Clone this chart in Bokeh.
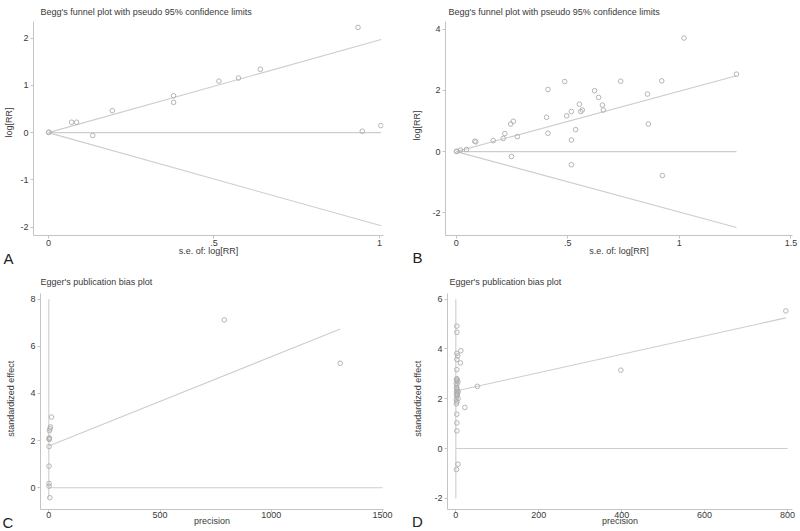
import math
from bokeh.plotting import figure
from bokeh.layouts import column, row
from bokeh.models import FixedTicker, Label, Range1d
from bokeh.embed import file_html
from bokeh.resources import INLINE

# ---------------- data ----------------
# Panel A: Begg's funnel plot
a_se = [0.0008, 0.0013, 0.070, 0.085, 0.134, 0.193, 0.378, 0.378, 0.515, 0.574, 0.640, 0.935, 0.948, 1.004]
a_logrr = [0.004, 0.009, 0.22, 0.22, -0.06, 0.465, 0.78, 0.64, 1.09, 1.155, 1.34, 2.225, 0.03, 0.15]
a_limit_se = [0.0, 1.005]
a_limit_upper = [0.0, 1.97]
a_limit_lower = [0.0, -1.97]
a_pooled = [0.0, 0.0]
a_xticks = [0, 0.5, 1]
a_xtick_labels = ["0", ".5", "1"]
a_yticks = [-2, -1, 0, 1, 2]

# Panel B: Begg's funnel plot
b_se = [0.001, 0.003, 0.019, 0.046, 0.083, 0.088, 0.166, 0.211, 0.218, 0.244, 0.256, 0.274,
        0.248, 0.405, 0.411, 0.411, 0.486, 0.495, 0.516, 0.516, 0.516, 0.535, 0.552, 0.558,
        0.565, 0.620, 0.638, 0.655, 0.659, 0.737, 0.857, 0.861, 0.921, 0.924, 1.021, 1.256]
b_logrr = [0.007, 0.008, 0.05, 0.07, 0.34, 0.32, 0.36, 0.43, 0.59, 0.90, 0.99, 0.49,
           -0.16, 1.12, 0.60, 2.03, 2.29, 1.17, 1.31, 0.38, -0.43, 0.72, 1.55, 1.31,
           1.36, 1.99, 1.77, 1.52, 1.36, 2.30, 1.88, 0.90, 2.31, -0.78, 3.71, 2.53]
b_limit_se = [0.0, 1.256]
b_limit_upper = [0.0, 2.48]
b_limit_lower = [0.0, -2.48]
b_pooled = [0.0, 0.0]
b_xticks = [0, 0.5, 1, 1.5]
b_xtick_labels = ["0", ".5", "1", "1.5"]
b_yticks = [-2, 0, 2, 4]

# Panel C: Egger's publication bias plot
c_precision = [1310, 789, 12, 7.5, 5, 2.5, 2.0, 1.8, 1.6, 1.2, 1.0, 1.0, 1.0, 4.5]
c_zscore = [5.28, 7.12, 3.0, 2.58, 2.5, 2.42, 2.12, 2.05, 2.08, 1.75, 0.92, 0.18, 0.07, -0.42]
c_fit_x = [0, 1310]
c_fit_y = [1.77, 6.73]
c_zero_x = [0, 1500]
c_vline_y = [-0.45, 8.0]
c_xticks = [0, 500, 1000, 1500]
c_yticks = [0, 2, 4, 6, 8]

# Panel D: Egger's publication bias plot
d_precision = [796, 398, 52, 21.7, 12, 11, 2.4, 2.4, 2.4, 4.5, 2.4, 2.4, 2.4, 3.5, 5, 2.4, 2.4, 3.5,
               5.5, 3.5, 5.5, 2.4, 2.4, 2.4, 2.4, 5, 1.5, 1.2, 1.4, 1.3, 1.8, 4, 1.5, 1.6, 2.0, 1.1]
d_zscore = [5.53, 3.15, 2.5, 1.65, 3.93, 3.44, 4.92, 4.67, 3.82, 3.72, 3.58, 3.17, 2.81, 2.75, 2.68, 2.55, 2.41, 2.34,
            2.28, 2.14, 2.01, 1.88, 1.38, 1.03, 0.71, -0.63, -0.84, 2.62, 2.2, 2.75, 2.45, 2.2, 1.8, 2.3, 2.1, 1.96]
d_fit_x = [0, 796]
d_fit_y = [2.31, 5.25]
d_zero_x = [0, 800]
d_vline_y = [-2.0, 6.0]
d_xticks = [0, 200, 400, 600, 800]
d_yticks = [-2, 0, 2, 4, 6]

FONT = "Liberation Sans"
TEXT = "#3a3a3a"
AXIS = "#c4c4c4"
LINE = "#cdcdcd"
MARK = "#adadad"


def strip(width, height, ylabel, ylabel_x, ylabel_y, letter, letter_x, letter_y):
    s = figure(width=width, height=height, output_backend="svg", toolbar_location=None,
               x_range=Range1d(0, width), y_range=Range1d(0, height),
               x_axis_location=None, y_axis_location=None,
               min_border_left=0, min_border_right=0, min_border_top=0, min_border_bottom=0)
    s.outline_line_color = None
    s.xgrid.visible = False
    s.ygrid.visible = False
    s.background_fill_color = "white"
    s.border_fill_color = "white"
    s.add_layout(Label(x=ylabel_x, y=ylabel_y, text=ylabel, angle=math.pi / 2,
                       text_font=FONT, text_font_size="9px", text_color=TEXT,
                       text_align="center", text_baseline="middle"))
    s.add_layout(Label(x=letter_x, y=letter_y, text=letter,
                       text_font=FONT, text_font_size="15px", text_color="#222222",
                       text_align="center", text_baseline="middle"))
    return column(s, width=width, height=height)


def panel(title, width, height, xr, yr, xticks, xlabels, yticks, xlabel,
          borders, title_offset, title_standoff, xl_standoffs):
    left, right, top, bottom = borders
    p = figure(width=width, height=height, output_backend="svg", toolbar_location=None,
               x_range=Range1d(*xr), y_range=Range1d(*yr),
               min_border_left=left, min_border_right=right,
               min_border_top=top, min_border_bottom=bottom)
    p.title.text = title
    p.title.text_font = FONT
    p.title.text_font_size = "9px"
    p.title.text_font_style = "normal"
    p.title.text_color = TEXT
    p.title.align = "left"
    p.title.offset = title_offset
    p.title.standoff = title_standoff
    p.outline_line_color = None
    p.xgrid.visible = False
    p.ygrid.visible = False
    p.background_fill_color = "white"
    p.border_fill_color = "white"

    p.xaxis.ticker = FixedTicker(ticks=xticks)
    p.xaxis.major_label_overrides = {t: l for t, l in zip(xticks, xlabels)}
    p.yaxis.ticker = FixedTicker(ticks=yticks)
    p.yaxis.major_label_overrides = {t: str(t) for t in yticks}
    p.xaxis.axis_label = xlabel
    for ax in (p.xaxis, p.yaxis):
        ax.axis_line_color = AXIS
        ax.axis_line_width = 1
        ax.major_tick_line_color = AXIS
        ax.major_tick_out = 3
        ax.major_tick_in = 0
        ax.minor_tick_line_color = None
        ax.major_label_text_font = FONT
        ax.major_label_text_font_size = "9px"
        ax.major_label_text_color = TEXT
        ax.axis_label_text_font = FONT
        ax.axis_label_text_font_size = "9px"
        ax.axis_label_text_font_style = "normal"
        ax.axis_label_text_color = TEXT
    p.xaxis.major_label_standoff = xl_standoffs[0]
    p.xaxis.axis_label_standoff = xl_standoffs[1]
    p.yaxis.major_label_standoff = 2
    return p


def style_marks(p, x, y):
    p.scatter(x, y, marker="circle", size=4.6, fill_color=None, line_color=MARK, line_width=0.9)


# Panel A
sa = strip(17, 265, "log[RR]", 8.3, 143, "A", 8, 7.5)
pa = panel("Begg's funnel plot with pseudo 95% confidence limits", 383, 265,
           (-0.045, 1.012), (-2.175, 2.35), a_xticks, a_xtick_labels, a_yticks,
           "s.e. of: log[RR]", (16, 17, 21, 30), 7, 9, (1, -3))
pa.line(a_limit_se, a_limit_upper, line_color=LINE, line_width=1.1)
pa.line(a_limit_se, a_limit_lower, line_color=LINE, line_width=1.1)
pa.line(a_limit_se, a_pooled, line_color=LINE, line_width=1.1)
style_marks(pa, a_se, a_logrr)

# Panel B
sb = strip(24, 265, "log[RR]", 16.7, 140, "B", 17, 8)
pb = panel("Begg's funnel plot with pseudo 95% confidence limits", 376, 265,
           (-0.048, 1.507), (-2.74, 4.25), b_xticks, b_xtick_labels, b_yticks,
           "s.e. of: log[RR]", (21, 8, 21, 30), 3, 9, (1, -3))
pb.line(b_limit_se, b_limit_upper, line_color=LINE, line_width=1.1)
pb.line(b_limit_se, b_limit_lower, line_color=LINE, line_width=1.1)
pb.line(b_limit_se, b_pooled, line_color=LINE, line_width=1.1)
style_marks(pb, b_se, b_logrr)

# Panel C
sc = strip(18, 266, "standardized effect", 10.8, 132.7, "C", 7.5, 9.5)
pc = panel("Egger's publication bias plot", 382, 266,
           (-37.4, 1504.5), (-0.92, 8.24), c_xticks, [str(t) for t in c_xticks], c_yticks,
           "precision", (22, 17, 28, 21), 0, 13, (-1, -5))
pc.line([0, 0], c_vline_y, line_color=LINE, line_width=1.1)
pc.line(c_zero_x, [0, 0], line_color=LINE, line_width=1.1)
pc.line(c_fit_x, c_fit_y, line_color=LINE, line_width=1.1)
style_marks(pc, c_precision, c_zscore)

# Panel D
sd = strip(24, 266, "standardized effect", 17, 132.7, "D", 17, 10)
pd_ = panel("Egger's publication bias plot", 376, 266,
            (-20.1, 812), (-2.45, 6.23), d_xticks, [str(t) for t in d_xticks], d_yticks,
            "precision", (23, 8, 28, 22), 2, 14, (-1, -5))
pd_.line([0, 0], d_vline_y, line_color=LINE, line_width=1.1)
pd_.line(d_zero_x, [0, 0], line_color=LINE, line_width=1.1)
pd_.line(d_fit_x, d_fit_y, line_color=LINE, line_width=1.1)
style_marks(pd_, d_precision, d_zscore)

layout = column(row(sa, pa, sb, pb), row(sc, pc, sd, pd_))

with open("out.html", "w") as f:
    f.write(file_html(layout, INLINE))
